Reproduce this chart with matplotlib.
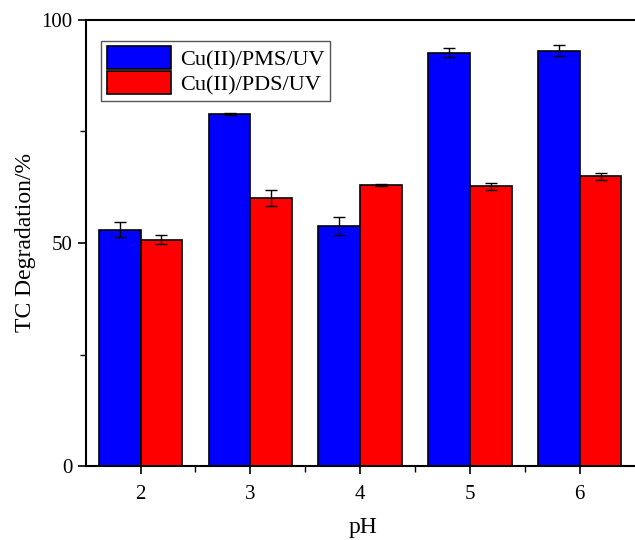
import matplotlib.pyplot as plt
import matplotlib as mpl
import numpy as np

plt.rc('font', family='Liberation Serif', size=15)

# data
ph = [2, 3, 4, 5, 6]
pms = [53.0, 79.0, 53.8, 92.7, 93.1]
pms_err = [1.7, 0.2, 2.0, 1.0, 1.2]
pds = [50.7, 60.0, 63.0, 62.7, 65.0]
pds_err = [1.0, 1.8, 0.3, 0.8, 0.8]

fig = plt.figure(figsize=(6.35, 5.4), dpi=100)
ax = fig.add_axes([0.135, 0.137, 0.873, 0.826])

w = 0.38
x = np.array(ph)
err_kw = dict(ecolor='black', elinewidth=1, capsize=4, capthick=1)
ax.bar(x - w / 2, pms, w, yerr=pms_err, color='#0000ff', edgecolor='black',
       linewidth=1.2, label='Cu(II)/PMS/UV', error_kw=err_kw)
ax.bar(x + w / 2, pds, w, yerr=pds_err, color='#ff0000', edgecolor='black',
       linewidth=1.2, label='Cu(II)/PDS/UV', error_kw=err_kw)

ax.set_xlim(1.5, 6.55)
ax.set_ylim(0, 100)
ax.set_xticks(ph)
ax.set_xticks([2.5, 3.5, 4.5, 5.5], minor=True)
ax.set_yticks([0, 50, 100])
ax.set_yticks([25, 75], minor=True)
ax.tick_params(direction='out', length=6, width=1.2)
ax.tick_params(axis='x', pad=8)
ax.tick_params(which='minor', direction='out', length=4, width=1)
for s in ax.spines.values():
    s.set_linewidth(1.5)

ax.set_xlabel('pH', fontsize=17, labelpad=9)
ax.set_ylabel('TC Degradation/%', fontsize=17, labelpad=4)

leg = ax.legend(loc='upper left', bbox_to_anchor=(0.008, 0.978), fontsize=16,
                fancybox=False, edgecolor='#555555', framealpha=1,
                handlelength=2.9, handleheight=1.2, borderpad=0.25,
                labelspacing=0.05, handletextpad=0.4)
leg.get_frame().set_linewidth(1)

fig.savefig('out.png', dpi=100)
